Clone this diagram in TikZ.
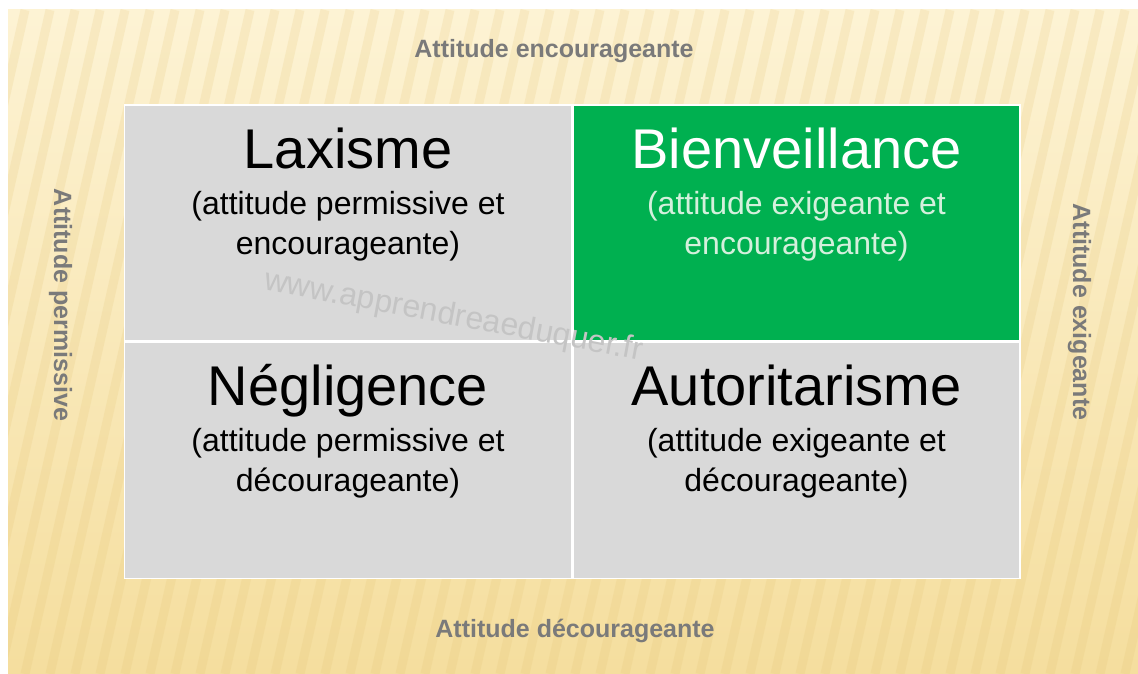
\documentclass[tikz,border=0pt]{standalone}
\usepackage{fontspec}
\setmainfont{Liberation Sans}
\usetikzlibrary{positioning}
\definecolor{cellgray}{HTML}{D9D9D9}
\definecolor{cellgreen}{HTML}{00B050}
\definecolor{axisgray}{HTML}{7A7A7A}
\definecolor{paleback}{HTML}{FDF3D4}
\definecolor{deepback}{HTML}{F5DE9E}
\definecolor{stripeback}{HTML}{E2C170}
\definecolor{markgray}{HTML}{C4C4C4}
\definecolor{palegreen}{HTML}{D4F0DC}
\tikzset{%
	cell/.style     = {draw=white, line width=1.5pt, rectangle, inner sep=0pt, minimum width=447pt, minimum height=236pt, fill=cellgray}, % quadrant
	title/.style    = {anchor=base, font=\fontsize{56}{60}\selectfont},
	subtitle/.style = {anchor=base, align=center, font=\fontsize{32}{40}\selectfont}, % base = last line
	axis/.style     = {anchor=base, text=axisgray, font=\fontsize{25}{30}\selectfont\bfseries}, % side labels
	stripe/.style   = {stripeback, line width=9pt, opacity=0.18},
}

\begin{document}
\begin{tikzpicture}[x=1pt,y=-1pt]
	\useasboundingbox (0,0) rectangle (1138,674);
	% background
	\fill[white] (0,0) rectangle (1138,674);
	\shade[top color=paleback, bottom color=deepback] (8,10) rectangle (1138,674);
	\begin{scope}
		\clip (8,10) rectangle (1138,674);
		\foreach \s in {-200,-175,...,1150}
			\draw[stripe] (\s,674) -- (\s+150,10);
	\end{scope}
	
	\node [cell] (lax) at (348,223) {};
	\node [cell,fill=cellgreen] (bien) [right=0pt of lax] {};
	\node [cell] (negl) [below=0pt of lax] {};
	\node [cell] (auto) [below=0pt of bien] {};
	
	\node [title] (laxT) at ([yshift=-64pt]lax.north) {Laxisme};
	\node [subtitle] (laxS) at ([yshift=-150pt]lax.north) {(attitude permissive et\\encourageante)};
	\node [title,text=white] (bienT) at ([yshift=-64pt]bien.north) {Bienveillance};
	\node [subtitle,text=palegreen] (bienS) at ([yshift=-150pt]bien.north) {(attitude exigeante et\\encourageante)};
	\node [title] (neglT) at ([yshift=-64pt]negl.north) {Négligence};
	\node [subtitle] (neglS) at ([yshift=-150pt]negl.north) {(attitude permissive et\\décourageante)};
	\node [title] (autoT) at ([yshift=-64pt]auto.north) {Autoritarisme};
	\node [subtitle] (autoS) at ([yshift=-150pt]auto.north) {(attitude exigeante et\\décourageante)};
	
	\node [anchor=base,rotate=-10.6,text=markgray,font=\fontsize{32}{36}\selectfont] (mark) at (452,325) {www.apprendreaeduquer.fr};
	
	\node [axis] (enc) at (554,58) {Attitude encourageante};
	\node [axis] (dec) at (575,637) {Attitude décourageante};
	\node [axis,rotate=-90] (perm) at (54,305) {Attitude permissive};
	\node [axis,rotate=-90] (exig) at (1073,312) {Attitude exigeante};
\end{tikzpicture}
\end{document}
